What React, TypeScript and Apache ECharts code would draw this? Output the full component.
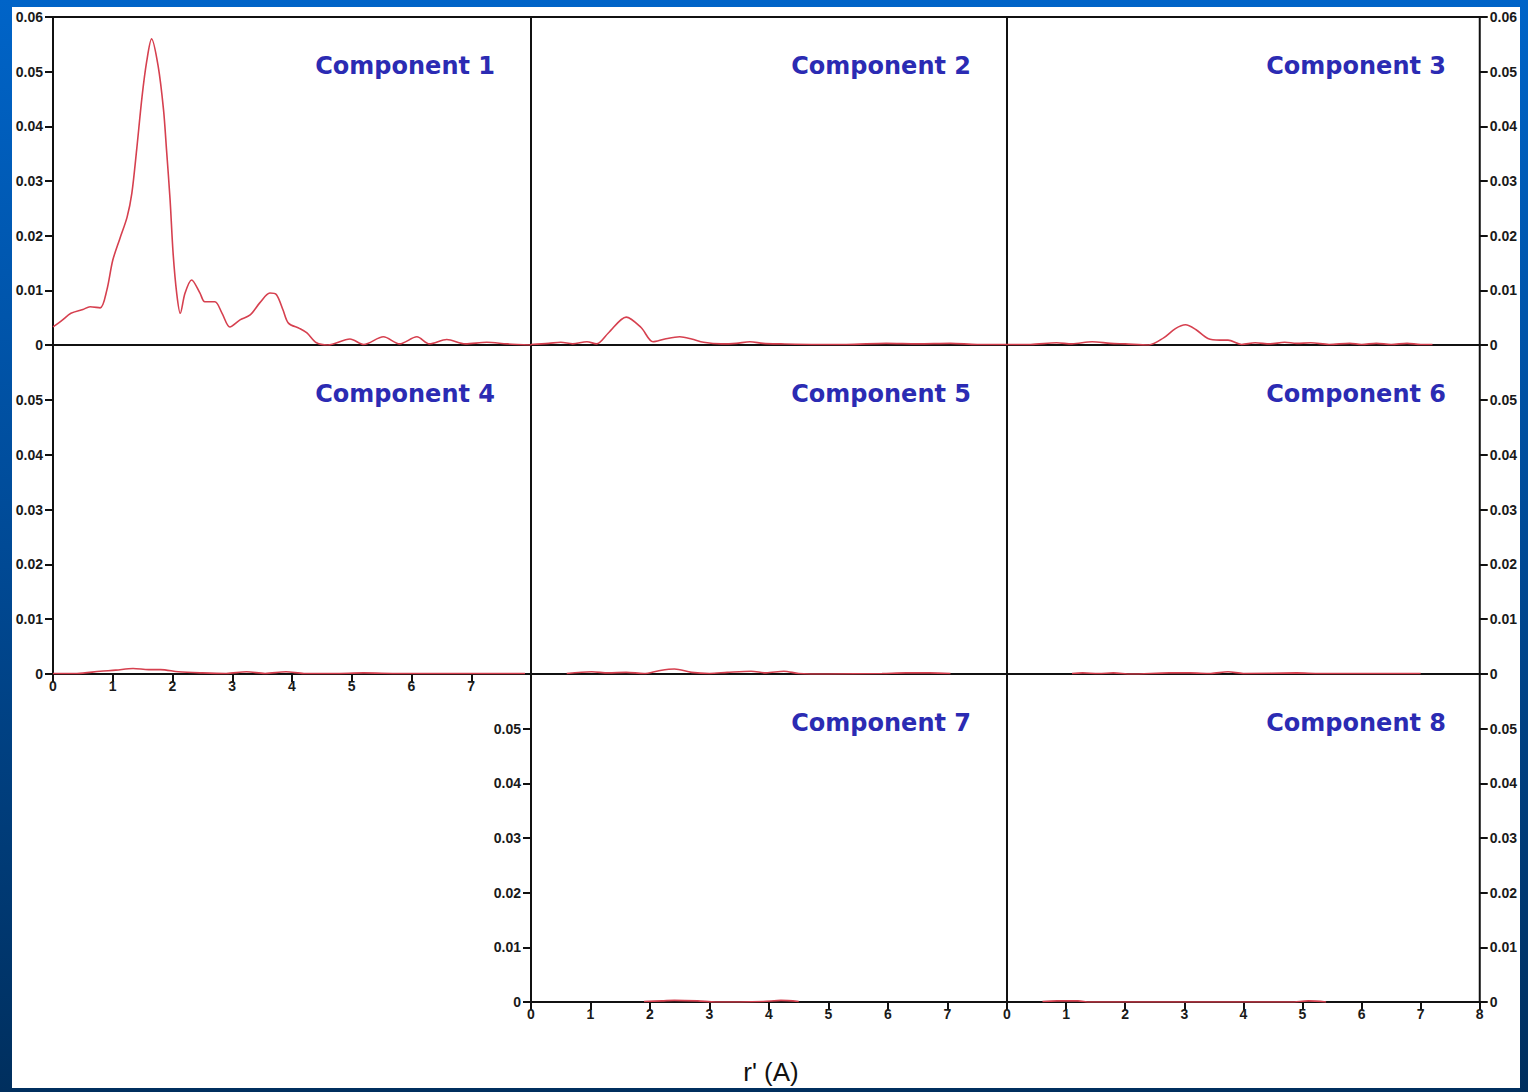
import { useEffect, useRef } from "react";
import * as echarts from "echarts";

// Radial-distribution components: [r' (Å), amplitude]
const component1: number[][] = [
  [0, 0.0033], [0.15, 0.0045], [0.3, 0.0058], [0.5, 0.0065], [0.62, 0.007], [0.79, 0.0068],
  [0.9, 0.01], [1.0, 0.0155], [1.12, 0.0195], [1.24, 0.0234], [1.32, 0.0278], [1.4, 0.0357],
  [1.49, 0.0454], [1.57, 0.052], [1.65, 0.056], [1.76, 0.051], [1.85, 0.043], [1.9, 0.0357],
  [1.96, 0.0265], [2.01, 0.0168], [2.07, 0.0095], [2.13, 0.0058], [2.21, 0.0095], [2.32, 0.0119],
  [2.46, 0.0095], [2.54, 0.0079], [2.71, 0.0079], [2.83, 0.0058], [2.96, 0.0033], [3.13, 0.0046],
  [3.3, 0.0055], [3.46, 0.0077], [3.63, 0.0095], [3.74, 0.0092], [3.85, 0.0064], [3.94, 0.004],
  [4.13, 0.003], [4.25, 0.0022], [4.41, 0.0004], [4.6, 0.0], [4.97, 0.0011], [5.2, 0.0001],
  [5.53, 0.0015], [5.8, 0.0002], [6.09, 0.0015], [6.3, 0.0002], [6.59, 0.001], [6.9, 0.0002],
  [7.26, 0.0005], [7.6, 0.0002], [8.0, 0.0],
];
const component2: number[][] = [
  [0, 0.0001], [0.3, 0.0003], [0.5, 0.0005], [0.7, 0.0002], [0.94, 0.0006], [1.1, 0.0002],
  [1.3, 0.0022], [1.6, 0.0051], [1.85, 0.0032], [2.05, 0.0006], [2.25, 0.0011], [2.5, 0.0015],
  [2.7, 0.0011], [2.9, 0.0005], [3.2, 0.0002], [3.45, 0.0003], [3.68, 0.0006], [3.9, 0.0003],
  [4.2, 0.0002], [4.8, 0.0001], [5.3, 0.0001], [5.97, 0.0003], [6.5, 0.0002], [7.05, 0.0003],
  [7.5, 0.0001], [8, 0.0001],
];
const component3: number[][] = [
  [0, 0.0001], [0.4, 0.0001], [0.84, 0.0004], [1.1, 0.0002], [1.44, 0.0006], [1.75, 0.0003],
  [2.0, 0.0002], [2.4, 0.0], [2.65, 0.0013], [2.85, 0.003], [3.02, 0.0037], [3.2, 0.0028],
  [3.4, 0.0012], [3.6, 0.0009], [3.74, 0.0009], [3.97, 0.0001], [4.2, 0.0004], [4.45, 0.0002],
  [4.7, 0.0005], [4.9, 0.0003], [5.14, 0.0004], [5.45, 0.0001], [5.8, 0.0003], [6.0, 0.0001],
  [6.25, 0.0003], [6.5, 0.0001], [6.77, 0.0003], [7.0, 0.0001], [7.2, 0.0001],
];
const component4: number[][] = [
  [0, 0.0001], [0.4, 0.0001], [0.79, 0.0005], [1.05, 0.0007], [1.34, 0.001], [1.6, 0.0008],
  [1.8, 0.0008], [2.1, 0.0004], [2.5, 0.0002], [2.9, 0.0001], [3.24, 0.0004], [3.55, 0.0001],
  [3.9, 0.0004], [4.2, 0.0001], [4.7, 0.0001], [5.2, 0.0002], [5.8, 0.0001], [6.5, 0.0001],
  [7.4, 0.0001], [7.9, 0.0001],
];
const component5: number[][] = [
  [0.6, 0.0001], [1.02, 0.0004], [1.3, 0.0002], [1.6, 0.0003], [1.9, 0.0001], [2.15, 0.0006],
  [2.41, 0.0009], [2.7, 0.0003], [3.0, 0.0001], [3.3, 0.0003], [3.7, 0.0005], [3.95, 0.0002],
  [4.25, 0.0005], [4.5, 0.0001], [5.0, 0.0], [5.9, 0.0001], [6.3, 0.0002], [6.7, 0.0002],
  [7.05, 0.0001],
];
const component6: number[][] = [
  [1.1, 0.0001], [1.28, 0.0002], [1.55, 0.0001], [1.8, 0.0002], [2.1, 0.0], [2.75, 0.0002],
  [3.1, 0.0002], [3.45, 0.0001], [3.74, 0.0004], [4.0, 0.0001], [4.9, 0.0002], [5.3, 0.0001],
  [7.0, 0.0001],
];
const component7: number[][] = [
  [1.9, 0.0001], [2.2, 0.0002], [2.41, 0.0003], [2.8, 0.0002], [3.1, 0.0], [3.9, 0.0001],
  [4.2, 0.0003], [4.5, 0.0001],
];
const component8: number[][] = [
  [0.6, 0.0001], [0.85, 0.0002], [1.2, 0.0002], [1.4, 0.0], [4.8, 0.0], [5.1, 0.0002], [5.4, 0.0],
];

const componentNames = [
  "Component 1", "Component 2", "Component 3", "Component 4",
  "Component 5", "Component 6", "Component 7", "Component 8",
];
const componentData = [
  component1, component2, component3, component4,
  component5, component6, component7, component8,
];

// [column, row] of each component's panel
const panelCells = [
  [0, 0], [1, 0], [2, 0], [0, 1], [1, 1], [2, 1], [1, 2], [2, 2],
];

const R_MIN = 0;
const R_MAX = 8;
const R_STEP = 1;
const Y_MIN = 0;
const Y_MAX = 0.06;
const Y_STEP = 0.01;
const X_TITLE = "r' (A)";

// Panel edges inside the white sheet
const colEdges = [41, 519, 995, 1470];
const rowEdges = [10, 338, 667, 995];

const SHEET_LEFT = 12;
const SHEET_TOP = 7;
const SHEET_W = 1508;
const SHEET_H = 1081;

const tickFont = {
  fontFamily: '"Liberation Sans", Arial, sans-serif',
  fontWeight: "bold" as const,
  fontSize: 14,
  color: "#1a1a1a",
};

const fmtY = (v: number) => (Math.abs(v) < 1e-9 ? "0" : v.toFixed(2));

export default function App() {
  const ref = useRef<HTMLDivElement>(null);

  useEffect(() => {
    if (!ref.current) return;
    const chart = echarts.init(ref.current, undefined, { renderer: "svg" });

    const grids: any[] = [];
    const xAxes: any[] = [];
    const yAxes: any[] = [];
    const series: any[] = [];
    const graphics: any[] = [];

    panelCells.forEach(([col, row], i) => {
      const left = colEdges[col];
      const top = rowEdges[row];
      const width = colEdges[col + 1] - left;
      const height = rowEdges[row + 1] - top;
      grids.push({
        left, top, width, height,
        show: true,
        borderColor: "#111",
        borderWidth: 2,
        backgroundColor: "transparent",
        containLabel: false,
      });

      const leftLabels = col === 0 || (col === 1 && row === 2);
      const rightLabels = col === 2;
      const bottomLabels = (row === 1 && col === 0) || row === 2;
      const showLastX = col === 2 && row === 2;

      xAxes.push({
        type: "value",
        gridIndex: i,
        position: "bottom",
        min: R_MIN,
        max: R_MAX,
        interval: R_STEP,
        axisLine: { show: false, onZero: false },
        splitLine: { show: false },
        axisTick: { show: bottomLabels, length: 8, lineStyle: { color: "#111", width: 2 } },
        axisLabel: {
          show: bottomLabels,
          margin: 5,
          ...tickFont,
          formatter: (v: number) => (v === R_MAX && !showLastX ? "" : String(v)),
        },
      });

      const yLabels = leftLabels || rightLabels;
      yAxes.push({
        type: "value",
        gridIndex: i,
        position: rightLabels ? "right" : "left",
        min: Y_MIN,
        max: Y_MAX,
        interval: Y_STEP,
        axisLine: { show: false, onZero: false },
        splitLine: { show: false },
        axisTick: { show: yLabels, length: 8, lineStyle: { color: "#111", width: 2 } },
        axisLabel: {
          show: yLabels,
          margin: 10,
          ...tickFont,
          formatter: (v: number) => (v > Y_MAX - 1e-6 && row > 0 ? "" : fmtY(v)),
        },
      });

      series.push({
        type: "line",
        name: componentNames[i],
        xAxisIndex: i,
        yAxisIndex: i,
        data: componentData[i],
        showSymbol: false,
        smooth: 0.3,
        silent: true,
        lineStyle: { color: "#d6404f", width: 1.6 },
        z: 3,
      });

      graphics.push({
        type: "text",
        x: colEdges[col + 1] - 36,
        y: top + 49,
        style: {
          text: componentNames[i],
          align: "right",
          verticalAlign: "middle",
          fontFamily: '"DejaVu Sans", Verdana, sans-serif',
          fontWeight: "bold",
          fontSize: 24,
          fill: "#2b2bb3",
        },
      });
    });

    graphics.push({
      type: "text",
      x: 759,
      y: 1065,
      style: {
        text: X_TITLE,
        align: "center",
        verticalAlign: "middle",
        fontFamily: '"Liberation Sans", Arial, sans-serif',
        fontSize: 26,
        fill: "#111",
      },
    });

    chart.setOption({
      animation: false,
      backgroundColor: "#ffffff",
      grid: grids,
      xAxis: xAxes,
      yAxis: yAxes,
      series,
      graphic: graphics,
    });

    return () => chart.dispose();
  }, []);

  return (
    <div
      style={{
        position: "fixed",
        left: 0,
        top: 0,
        width: 1528,
        height: 1092,
        background: "linear-gradient(180deg, #0064c8 0%, #004a96 50%, #002f5e 100%)",
      }}
    >
      <div
        ref={ref}
        style={{
          position: "absolute",
          left: SHEET_LEFT,
          top: SHEET_TOP,
          width: SHEET_W,
          height: SHEET_H,
        }}
      />
    </div>
  );
}
